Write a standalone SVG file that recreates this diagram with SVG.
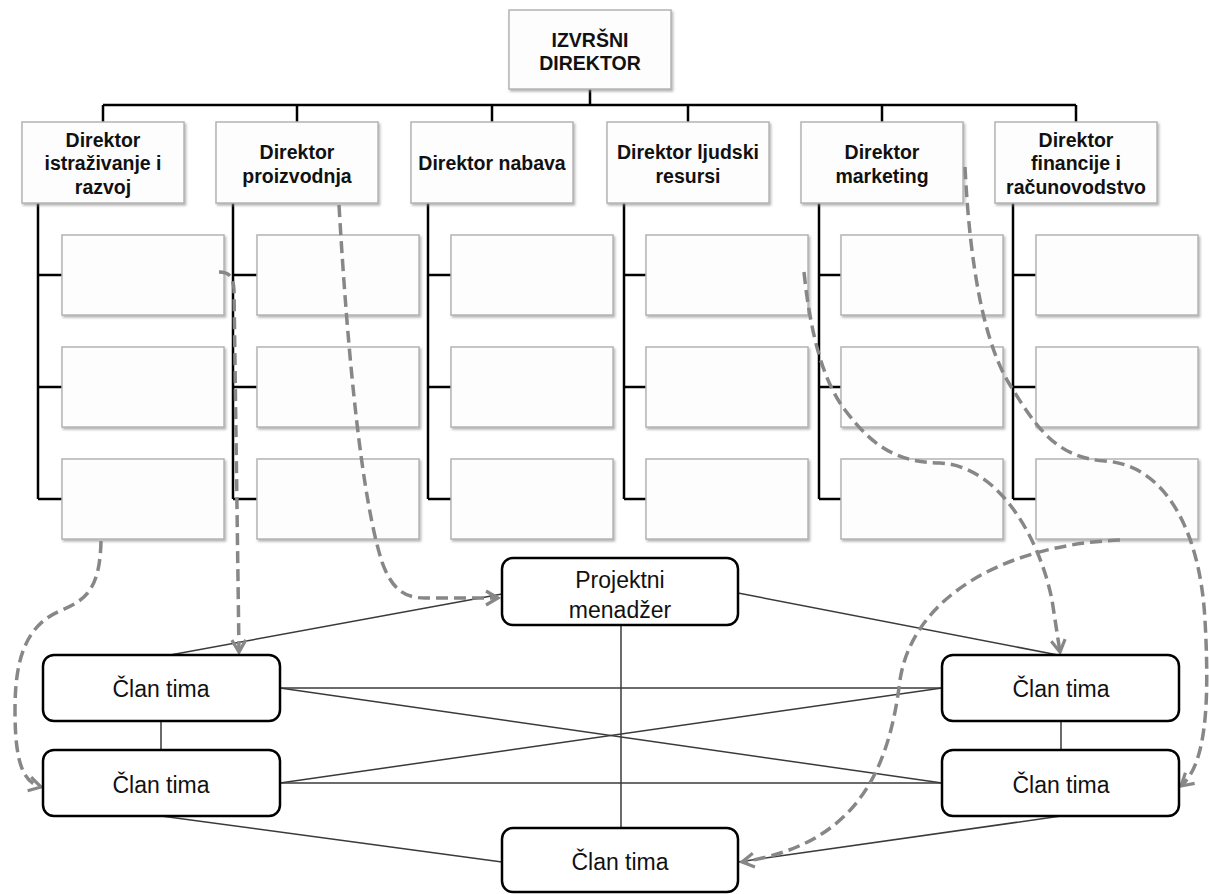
<svg xmlns="http://www.w3.org/2000/svg" width="1209" height="894" viewBox="0 0 1209 894">
<style>
.org{fill:#fdfdfd;stroke:#b4b4b4;stroke-width:1.5;filter:url(#sh)}
.tb{font-family:"Liberation Sans",Arial,sans-serif;font-weight:bold;font-size:19.5px;fill:#111;text-anchor:middle}
.tr{font-family:"Liberation Sans",Arial,sans-serif;font-size:23px;fill:#111;text-anchor:middle}
.team{fill:#fff;stroke:#000;stroke-width:2.5}
.tree{stroke:#000;stroke-width:2.5;fill:none}
.sol{stroke:#3a3a3a;stroke-width:1.5;fill:none}
.dash{stroke:#878787;stroke-width:3.5;fill:none;stroke-dasharray:12 6}
</style>
<defs>
<filter id="sh" x="-10%" y="-10%" width="125%" height="130%">
<feDropShadow dx="1.5" dy="2" stdDeviation="1.2" flood-color="#888" flood-opacity="0.6"/>
</filter>
<marker id="ah" markerUnits="userSpaceOnUse" markerWidth="16" markerHeight="16" refX="13" refY="7" orient="auto" overflow="visible">
<path d="M1,0 L13,7 L1,14" fill="none" stroke="#878787" stroke-width="3.2"/>
</marker>
</defs>

<g id="tree-lines">
<path class="tree" d="M590,89 V105 M103,105 H1076 M103,105 V122 M297,105 V122 M492,105 V122 M688,105 V122 M882,105 V122 M1076,105 V122"/>
<path class="tree" d="M38,203 V499 M38,275 H62 M38,387 H62 M38,499 H62"/>
<path class="tree" d="M233,203 V499 M233,275 H257 M233,387 H257 M233,499 H257"/>
<path class="tree" d="M428,203 V499 M428,275 H451 M428,387 H451 M428,499 H451"/>
<path class="tree" d="M624,203 V499 M624,275 H646 M624,387 H646 M624,499 H646"/>
<path class="tree" d="M819,203 V499 M819,275 H841 M819,387 H841 M819,499 H841"/>
<path class="tree" d="M1013,203 V499 M1013,275 H1036 M1013,387 H1036 M1013,499 H1036"/>
</g>

<g id="ceo"><rect class="org" x="509" y="10" width="162" height="79"/>
<text class="tb" x="590" y="47">IZVRŠNI</text><text class="tb" x="590" y="70">DIREKTOR</text></g>

<g id="dir-rd"><rect class="org" x="22" y="122" width="162" height="81"/>
<text class="tb" x="103" y="147">Direktor</text><text class="tb" x="103" y="170">istraživanje i</text><text class="tb" x="103" y="194">razvoj</text></g>
<g id="dir-prod"><rect class="org" x="216" y="122" width="162" height="81"/>
<text class="tb" x="297" y="159">Direktor</text><text class="tb" x="297" y="183">proizvodnja</text></g>
<g id="dir-nab"><rect class="org" x="411" y="122" width="162" height="81"/>
<text class="tb" x="492" y="170">Direktor nabava</text></g>
<g id="dir-hr"><rect class="org" x="607" y="122" width="162" height="81"/>
<text class="tb" x="688" y="159">Direktor ljudski</text><text class="tb" x="688" y="183">resursi</text></g>
<g id="dir-mkt"><rect class="org" x="801" y="122" width="162" height="81"/>
<text class="tb" x="882" y="159">Direktor</text><text class="tb" x="882" y="183">marketing</text></g>
<g id="dir-fin"><rect class="org" x="995" y="122" width="162" height="81"/>
<text class="tb" x="1076" y="147">Direktor</text><text class="tb" x="1076" y="170">financije i</text><text class="tb" x="1076" y="194">računovodstvo</text></g>

<g id="sub-1-1"><rect class="org" x="62" y="235" width="162" height="80"/></g>
<g id="sub-1-2"><rect class="org" x="62" y="347" width="162" height="80"/></g>
<g id="sub-1-3"><rect class="org" x="62" y="459" width="162" height="80"/></g>
<g id="sub-2-1"><rect class="org" x="257" y="235" width="162" height="80"/></g>
<g id="sub-2-2"><rect class="org" x="257" y="347" width="162" height="80"/></g>
<g id="sub-2-3"><rect class="org" x="257" y="459" width="162" height="80"/></g>
<g id="sub-3-1"><rect class="org" x="451" y="235" width="162" height="80"/></g>
<g id="sub-3-2"><rect class="org" x="451" y="347" width="162" height="80"/></g>
<g id="sub-3-3"><rect class="org" x="451" y="459" width="162" height="80"/></g>
<g id="sub-4-1"><rect class="org" x="646" y="235" width="162" height="80"/></g>
<g id="sub-4-2"><rect class="org" x="646" y="347" width="162" height="80"/></g>
<g id="sub-4-3"><rect class="org" x="646" y="459" width="162" height="80"/></g>
<g id="sub-5-1"><rect class="org" x="841" y="235" width="162" height="80"/></g>
<g id="sub-5-2"><rect class="org" x="841" y="347" width="162" height="80"/></g>
<g id="sub-5-3"><rect class="org" x="841" y="459" width="162" height="80"/></g>
<g id="sub-6-1"><rect class="org" x="1036" y="235" width="162" height="80"/></g>
<g id="sub-6-2"><rect class="org" x="1036" y="347" width="162" height="80"/></g>
<g id="sub-6-3"><rect class="org" x="1036" y="459" width="162" height="80"/></g>

<g id="connectors">
<path class="sol" d="M170,655 L502,594"/>
<path class="sol" d="M738,593 L1058,655"/>
<path class="sol" d="M621,625 V828"/>
<path class="sol" d="M280,688 H942"/>
<path class="sol" d="M280,688 L942,783"/>
<path class="sol" d="M280,783 L942,688"/>
<path class="sol" d="M280,783 H942"/>
<path class="sol" d="M161,721 V750"/>
<path class="sol" d="M1061,721 V750"/>
<path class="sol" d="M161,816 L502,862"/>
<path class="sol" d="M1061,816 L738,862"/>
<path class="dash" marker-end="url(#ah)" d="M101,541 C100,590 85,600 62,610 C25,625 15,660 15,710 C15,760 22,782 41,787"/>
<path class="dash" marker-end="url(#ah)" d="M219,272 C228,272 233,275 234,290 L239,652"/>
<path class="dash" marker-end="url(#ah)" d="M339,205 C348,360 362,500 382,562 C392,590 405,598 425,598 L498,598"/>
<path class="dash" marker-end="url(#ah)" d="M965,167 C970,270 985,345 1010,385 C1035,425 1055,458 1105,461 C1165,465 1200,530 1205,620 C1210,710 1205,765 1181,786"/>
<path class="dash" marker-end="url(#ah)" d="M804,272 C810,330 822,380 845,410 C875,450 900,462 940,463 C1000,466 1040,540 1052,600 L1060,652"/>
<path class="dash" marker-end="url(#ah)" d="M1120,540 C1000,545 912,600 900,680 C888,780 850,845 742,862"/>
</g>

<g id="pm"><rect class="team" x="502" y="558" width="236" height="67" rx="11"/>
<text class="tr" x="620" y="588">Projektni</text><text class="tr" x="620" y="618">menadžer</text></g>
<g id="member-lt"><rect class="team" x="43" y="655" width="237" height="66" rx="11"/>
<text class="tr" x="161" y="697">Član tima</text></g>
<g id="member-lb"><rect class="team" x="43" y="750" width="237" height="66" rx="11"/>
<text class="tr" x="161" y="793">Član tima</text></g>
<g id="member-rt"><rect class="team" x="942" y="655" width="237" height="66" rx="11"/>
<text class="tr" x="1061" y="697">Član tima</text></g>
<g id="member-rb"><rect class="team" x="942" y="750" width="237" height="66" rx="11"/>
<text class="tr" x="1061" y="793">Član tima</text></g>
<g id="member-b"><rect class="team" x="502" y="828" width="236" height="64" rx="11"/>
<text class="tr" x="620" y="870">Član tima</text></g>
</svg>
